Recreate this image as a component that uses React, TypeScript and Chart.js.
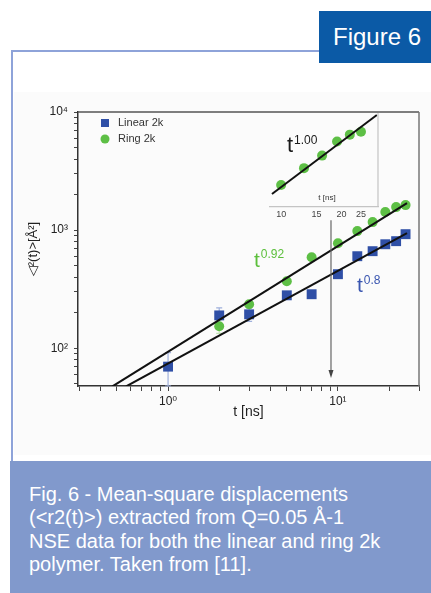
import React, { useEffect, useRef } from "react";
import { Chart, registerables } from "chart.js";

Chart.register(...registerables);

// ---------- data ----------
const linearTime = [1, 2, 3, 5, 7, 10, 13, 16, 19, 22, 25];
const linearMsd = [70, 190, 194, 281, 287, 424, 602, 664, 760, 807, 925];
const linearErr = [22, 30, 25, 0, 0, 0, 0, 0, 0, 0, 0];

const ringTime = [2, 3, 5, 7, 10, 13, 16, 19, 22, 25];
const ringMsd = [154, 236, 370, 590, 776, 982, 1170, 1423, 1567, 1630];
const ringErr = [20, 15, 0, 0, 0, 0, 0, 0, 0, 0];

const ringFitTime = [0.47, 25.5];
const ringFitMsd = [47.6, 1694];
const linearFitTime = [0.566, 25.5];
const linearFitMsd = [47.6, 944];

const arrowTime = [9.1, 9.1];
const arrowMsd = [1216, 56];

const insetTime = [10, 13, 16, 19, 22, 25];
const insetMsd = [776, 982, 1170, 1423, 1567, 1630];
const insetFitTime = [9.0, 30];
const insetFitMsd = [684, 2061];

const xTickValues = [0.3, 0.4, 0.5, 0.6, 0.7, 0.8, 0.9, 1, 2, 3, 4, 5, 6, 7, 8, 9, 10, 20, 30];
const yTickValues = [
  50, 60, 70, 80, 90, 100, 200, 300, 400, 500, 600, 700, 800, 900,
  1000, 2000, 3000, 4000, 5000, 6000, 7000, 8000, 9000, 10000,
];
const insetTickValues = [10, 15, 20, 25];

const legendLabels = ["Linear 2k", "Ring 2k"];

// ---------- helpers ----------
const FONT = "'Liberation Sans', Arial, 'DejaVu Sans', sans-serif";
const BLUE = "#2f4fa6";
const GREEN = "#5dbf45";
const SUP: Record<string, string> = {
  "0": "⁰", "1": "¹", "2": "²", "3": "³", "4": "⁴",
  "5": "⁵", "6": "⁶", "7": "⁷", "8": "⁸", "9": "⁹", "-": "⁻",
};
function powLabel(v: number): string {
  const e = Math.log10(v);
  if (Math.abs(e - Math.round(e)) > 1e-9) return "";
  return "10" + String(Math.round(e)).split("").map((c) => SUP[c]).join("");
}

function drawPower(
  ctx: CanvasRenderingContext2D, x: number, y: number, base: string, exp: string,
  color: string, size: number, supSize: number, supRise: number
) {
  ctx.save();
  ctx.fillStyle = color;
  ctx.textBaseline = "alphabetic";
  ctx.textAlign = "left";
  ctx.font = `${size}px ${FONT}`;
  ctx.fillText(base, x, y);
  const w = ctx.measureText(base).width;
  ctx.font = `${supSize}px ${FONT}`;
  ctx.fillText(exp, x + w + 1, y - supRise);
  ctx.restore();
}

const mainPlugin = {
  id: "mainExtras",
  beforeDatasetsDraw(chart: any) {
    const { ctx, scales } = chart;
    const xs = scales.x, ys = scales.y;
    ctx.save();
    ctx.lineWidth = 1.2;
    const bars = (ts: number[], vs: number[], es: number[], color: string) => {
      ctx.strokeStyle = color;
      ts.forEach((t, i) => {
        if (!es[i]) return;
        const px = xs.getPixelForValue(t);
        const y1 = ys.getPixelForValue(vs[i] + es[i]);
        const y2 = ys.getPixelForValue(Math.max(vs[i] - es[i], 1));
        ctx.beginPath();
        ctx.moveTo(px, y1); ctx.lineTo(px, y2);
        ctx.moveTo(px - 3, y1); ctx.lineTo(px + 3, y1);
        ctx.moveTo(px - 3, y2); ctx.lineTo(px + 3, y2);
        ctx.stroke();
      });
    };
    bars(linearTime, linearMsd, linearErr, "#9fb0dc");
    bars(ringTime, ringMsd, ringErr, "#c3e4b4");
    ctx.restore();
  },
  afterDraw(chart: any) {
    const { ctx, chartArea: a, scales } = chart;
    const xs = scales.x, ys = scales.y;
    ctx.save();
    // top and right frame
    ctx.strokeStyle = "#555";
    ctx.lineWidth = 1.5;
    ctx.beginPath();
    ctx.moveTo(a.left, a.top); ctx.lineTo(a.right, a.top);
    ctx.stroke();
    ctx.strokeStyle = "#777";
    ctx.beginPath();
    ctx.moveTo(a.right, a.top); ctx.lineTo(a.right, a.bottom);
    ctx.stroke();

    // arrow
    const ax = xs.getPixelForValue(arrowTime[0]);
    const ay1 = ys.getPixelForValue(arrowMsd[0]);
    const ay2 = ys.getPixelForValue(arrowMsd[1]);
    ctx.strokeStyle = "#666";
    ctx.fillStyle = "#444";
    ctx.lineWidth = 1.2;
    ctx.beginPath();
    ctx.moveTo(ax, ay1); ctx.lineTo(ax, ay2 - 6);
    ctx.stroke();
    ctx.beginPath();
    ctx.moveTo(ax - 2.5, ay2 - 8); ctx.lineTo(ax + 2.5, ay2 - 8); ctx.lineTo(ax, ay2);
    ctx.closePath();
    ctx.fill();

    // legend
    const lx = a.left + 27, ly = a.top + 11;
    ctx.fillStyle = BLUE;
    ctx.fillRect(lx - 4, ly - 4, 8, 8);
    ctx.fillStyle = GREEN;
    ctx.beginPath();
    ctx.arc(lx, ly + 16, 4.5, 0, Math.PI * 2);
    ctx.fill();
    ctx.fillStyle = "#333";
    ctx.font = `11px ${FONT}`;
    ctx.textBaseline = "middle";
    ctx.fillText(legendLabels[0], lx + 13, ly);
    ctx.fillText(legendLabels[1], lx + 13, ly + 16);

    // power-law labels
    drawPower(ctx, a.left + 176, a.top + 155, "t", "0.92", "#5cbf3c", 21, 12, 9);
    drawPower(ctx, a.left + 279, a.top + 180, "t", "0.8", "#3a56b0", 21, 12, 8);
    ctx.restore();
  },
};

const insetPlugin = {
  id: "insetExtras",
  afterDraw(chart: any) {
    const { ctx, chartArea: a } = chart;
    ctx.save();
    ctx.strokeStyle = "#c4c4c4";
    ctx.lineWidth = 1.2;
    ctx.beginPath();
    ctx.moveTo(a.right, a.top); ctx.lineTo(a.right, a.bottom);
    ctx.stroke();
    ctx.fillStyle = "#333";
    ctx.font = `8px ${FONT}`;
    ctx.textAlign = "center";
    ctx.textBaseline = "middle";
    ctx.fillText("t [ns]", a.left + 57, a.bottom - 9);
    drawPower(ctx, a.left + 17, a.top + 39, "t", "1.00", "#1a1a1a", 22, 12, 8);
    ctx.restore();
  },
};

export default function App() {
  const mainRef = useRef<HTMLCanvasElement | null>(null);
  const insetRef = useRef<HTMLCanvasElement | null>(null);

  useEffect(() => {
    document.body.style.margin = "0";
    document.body.style.background = "#ffffff";
    const tickFont = { family: FONT, size: 12 };

    const main = new Chart(mainRef.current as HTMLCanvasElement, {
      type: "scatter",
      data: {
        datasets: [
          {
            label: "ring fit",
            data: ringFitTime.map((t, i) => ({ x: t, y: ringFitMsd[i] })),
            showLine: true,
            borderColor: "#111",
            borderWidth: 2,
            pointRadius: 0,
          } as any,
          {
            label: "linear fit",
            data: linearFitTime.map((t, i) => ({ x: t, y: linearFitMsd[i] })),
            showLine: true,
            borderColor: "#111",
            borderWidth: 2,
            pointRadius: 0,
          },
          {
            label: legendLabels[1],
            data: ringTime.map((t, i) => ({ x: t, y: ringMsd[i] })),
            pointStyle: "circle",
            pointRadius: 5,
            backgroundColor: GREEN,
            borderWidth: 0,
          },
          {
            label: legendLabels[0],
            data: linearTime.map((t, i) => ({ x: t, y: linearMsd[i] })),
            pointStyle: "rect",
            pointRadius: 7,
            backgroundColor: BLUE,
            borderWidth: 0,
          },
        ],
      },
      options: {
        animation: false,
        responsive: false,
        events: [],
        layout: { padding: { left: 26, top: 112, right: 12, bottom: 167 } },
        plugins: { legend: { display: false }, tooltip: { enabled: false } },
        scales: {
          x: {
            type: "logarithmic",
            min: 0.295,
            max: 30,
            afterBuildTicks: (s: any) => {
              s.ticks = xTickValues.map((v) => ({ value: v }));
            },
            afterFit: (s: any) => {
              s.height = 40;
            },
            ticks: {
              autoSkip: false,
              maxRotation: 0,
              padding: 3,
              color: "#222",
              font: tickFont,
              callback: (v: any) => powLabel(Number(v)),
            },
            grid: { drawOnChartArea: false, tickLength: 5, color: "#444" },
            border: { color: "#333", width: 1.5 },
            title: {
              display: true,
              text: "t [ns]",
              color: "#222",
              font: { family: FONT, size: 14 },
              padding: { top: 0, bottom: 5 },
            },
          },
          y: {
            type: "logarithmic",
            min: 48,
            max: 10000,
            afterBuildTicks: (s: any) => {
              s.ticks = yTickValues.map((v) => ({ value: v }));
            },
            afterFit: (s: any) => {
              s.width = 52;
            },
            ticks: {
              autoSkip: false,
              padding: 6,
              color: "#222",
              font: tickFont,
              callback: (v: any) => powLabel(Number(v)),
            },
            grid: { drawOnChartArea: false, tickLength: 4, color: "#444" },
            border: { color: "#333", width: 1.5 },
            title: {
              display: true,
              text: "◁²(t)>[Å²]",
              color: "#222",
              font: { family: FONT, size: 13 },
              padding: { top: 0, bottom: 0 },
            },
          },
        },
      },
      plugins: [mainPlugin],
    });

    const inset = new Chart(insetRef.current as HTMLCanvasElement, {
      type: "scatter",
      data: {
        datasets: [
          {
            label: "inset fit",
            data: insetFitTime.map((t, i) => ({ x: t, y: insetFitMsd[i] })),
            showLine: true,
            borderColor: "#111",
            borderWidth: 2,
            pointRadius: 0,
          } as any,
          {
            label: "inset ring",
            data: insetTime.map((t, i) => ({ x: t, y: insetMsd[i] })),
            pointStyle: "circle",
            pointRadius: 5,
            backgroundColor: GREEN,
            borderWidth: 0,
          },
        ],
      },
      options: {
        animation: false,
        responsive: false,
        events: [],
        layout: { padding: { left: 20, top: 13, right: 12, bottom: 4 } },
        plugins: { legend: { display: false }, tooltip: { enabled: false } },
        scales: {
          x: {
            type: "logarithmic",
            min: 8.8,
            max: 30.4,
            afterBuildTicks: (s: any) => {
              s.ticks = insetTickValues.map((v) => ({ value: v }));
            },
            afterFit: (s: any) => {
              s.height = 14;
            },
            ticks: {
              autoSkip: false,
              maxRotation: 0,
              padding: 2,
              color: "#444",
              font: { family: FONT, size: 9 },
              callback: (v: any) => String(v),
            },
            grid: { display: false, drawTicks: false },
            border: { color: "#c4c4c4", width: 1.2 },
          },
          y: {
            type: "logarithmic",
            min: 571,
            max: 2120,
            display: false,
          },
        },
      },
      plugins: [insetPlugin],
    });

    return () => {
      main.destroy();
      inset.destroy();
    };
  }, []);

  return (
    <div style={{ position: "relative", width: 431, height: 593, overflow: "hidden", fontFamily: FONT }}>
      {/* light image background */}
      <div style={{ position: "absolute", left: 14, top: 92, width: 417, height: 363, background: "#fbfbfb" }} />
      {/* frame lines */}
      <div style={{ position: "absolute", left: 11, top: 50, width: 2, height: 411, background: "#8ea3d9" }} />
      <div style={{ position: "absolute", left: 11, top: 50, width: 320, height: 2, background: "#8ea3d9" }} />
      <canvas
        ref={mainRef}
        width={431}
        height={593}
        style={{ position: "absolute", left: 0, top: 0, width: 431, height: 593 }}
      />
      <canvas
        ref={insetRef}
        width={140}
        height={125}
        style={{ position: "absolute", left: 250, top: 100, width: 140, height: 125 }}
      />
      {/* Figure badge */}
      <div
        style={{
          position: "absolute", left: 319, top: 11, width: 112, height: 52,
          background: "#0b5aa6", color: "#fff", fontSize: 24, lineHeight: "52px",
          paddingLeft: 14, boxSizing: "border-box", whiteSpace: "nowrap",
        }}
      >
        Figure 6
      </div>
      {/* caption */}
      <div
        style={{
          position: "absolute", left: 10, top: 461, width: 421, height: 132,
          background: "#8199cc", color: "#fff", fontSize: 20, lineHeight: "23.4px",
          paddingLeft: 19, paddingTop: 22, boxSizing: "border-box", whiteSpace: "nowrap",
        }}
      >
        Fig. 6 - Mean-square displacements
        <br />
        (&lt;r2(t)&gt;) extracted from Q=0.05 Å-1
        <br />
        NSE data for both the linear and ring 2k
        <br />
        polymer. Taken from [11].
      </div>
    </div>
  );
}
